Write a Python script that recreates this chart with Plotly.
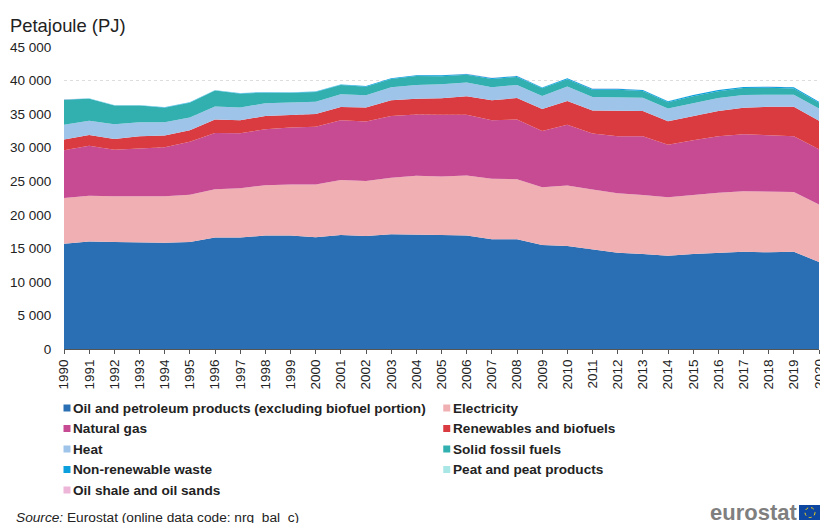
import plotly.graph_objects as go

years = list(range(1990, 2021))
names = ["Oil and petroleum products (excluding biofuel portion)", "Electricity", "Natural gas",
         "Renewables and biofuels", "Heat", "Solid fossil fuels", "Non-renewable waste",
         "Peat and peat products", "Oil shale and oil sands"]
colors = ["#2A6EB4", "#F0AFB2", "#C64B93", "#D93B41", "#9FC4EA", "#32B0B0", "#0B9FDD", "#A9E6E6", "#EDB5D8"]

oil = [15700,16000,15950,15900,15850,15950,16600,16600,16900,16900,16650,17000,16850,17100,17100,17000,16900,16350,16350,15500,15350,14850,14350,14150,13900,14150,14350,14500,14400,14500,12950]
electricity = [6800,6850,6800,6850,6900,7050,7200,7350,7500,7600,7850,8200,8200,8400,8700,8700,8950,9000,8950,8600,9000,8900,8850,8800,8700,8800,8950,9000,9000,8900,8600]
gas = [7100,7450,6950,7150,7300,7900,8400,8200,8350,8500,8600,8900,8850,9200,9150,9200,9050,8750,8900,8400,9050,8350,8500,8750,7850,8150,8400,8500,8500,8300,8200]
renewables = [1600,1600,1600,1800,1750,1700,2000,1950,1950,1800,1900,1950,2100,2350,2350,2450,2750,2950,3200,3250,3550,3450,3750,3750,3500,3650,3750,3950,4200,4400,4250]
heat = [2200,2100,2200,2100,2000,1900,1950,1900,1900,1900,1850,1900,1800,1950,2050,2100,2050,1950,1950,1950,2150,2000,2000,2000,1900,1850,1950,1900,1800,1800,1850]
solid = [3725,3275,2770,2470,2160,2210,2350,2050,1590,1440,1435,1385,1285,1225,1315,1205,1155,1245,1195,1150,1090,1090,1180,980,930,1080,1025,1025,1025,925,835]
waste = [40,40,50,50,60,60,70,70,80,80,90,90,90,100,110,120,120,130,130,130,140,140,150,150,150,150,160,160,160,160,150]
peat = [30,30,25,25,25,25,25,25,25,25,20,20,20,20,20,20,20,20,20,15,15,15,15,15,15,15,10,10,10,10,10]
shale = [5,5,5,5,5,5,5,5,5,5,5,5,5,5,5,5,5,5,5,5,5,5,5,5,5,5,5,5,5,5,5]
series = [oil, electricity, gas, renewables, heat, solid, waste, peat, shale]
y_ticks = [0, 5000, 10000, 15000, 20000, 25000, 30000, 35000, 40000, 45000]
y_tick_labels = ["0", "5 000", "10 000", "15 000", "20 000", "25 000", "30 000", "35 000", "40 000", "45 000"]

W, H = 820, 523
L, R, T, B = 63.5, 819, 47, 349
FONT = "Liberation Sans, Arial, sans-serif"
TXT = "#222222"
fig = go.Figure()
for n, c, v in zip(names, colors, series):
    fig.add_trace(go.Scatter(x=years, y=v, name=n, mode="lines", stackgroup="one",
                             line=dict(width=0, color=c), fillcolor=c, showlegend=False))

def px(x): return (x - L) / (R - L)
def py(y): return (B - y) / (B - T)

shapes, ann = [], []
ann.append(dict(text="Petajoule (PJ)", x=px(7), y=py(25), xref="paper", yref="paper", xanchor="left", yanchor="middle",
                showarrow=False, font=dict(size=18.4, color=TXT, family=FONT)))
cols = [63, 443]
rows = [408, 428.5, 449, 469.5, 490]
for i, (n, c) in enumerate(zip(names, colors)):
    col = 1 if (i % 2 and i < 8) else 0
    row = i // 2
    x0 = cols[col]; yc = rows[row]
    shapes.append(dict(type="rect", xref="paper", yref="paper", x0=px(x0), x1=px(x0 + 7),
                       y0=py(yc + 3.5), y1=py(yc - 3.5), fillcolor=c, line=dict(width=0)))
    ann.append(dict(text="<b>%s</b>" % n, x=px(x0 + 8), y=py(yc), xref="paper", yref="paper", xanchor="left", yanchor="middle",
                    showarrow=False, font=dict(size=13.6, color=TXT, family=FONT)))
ann.append(dict(text="<i>Source:</i> Eurostat (online data code: nrg_bal_c)", x=px(13), y=py(517), xref="paper", yref="paper",
                xanchor="left", yanchor="middle", showarrow=False, font=dict(size=13.7, color=TXT, family=FONT)))
ann.append(dict(text="<b>eurostat</b>", x=px(798.5), y=py(512.5), xref="paper", yref="paper", xanchor="right", yanchor="middle",
                showarrow=False, font=dict(size=22, color="#7F7F7F", family=FONT)))
ann.append(dict(text=str(years[-1]), x=years[-1], y=py(357), xref="x", yref="paper", xanchor="center", yanchor="top",
                textangle=-90, showarrow=False, font=dict(size=13.5, color=TXT, family=FONT)))
shapes.append(dict(type="rect", xref="paper", yref="paper", x0=px(799), x1=px(820), y0=py(520), y1=py(505),
                   fillcolor="#0E47A1", line=dict(width=0)))
shapes.append(dict(type="circle", xref="paper", yref="paper", x0=px(805), x1=px(815), y0=py(517.5), y1=py(507.5),
                   fillcolor="rgba(0,0,0,0)", line=dict(width=1, color="#F2D21B", dash="dot")))

fig.update_layout(width=W, height=H, margin=dict(l=L, r=W - R, t=T, b=H - B), autosize=False,
                  paper_bgcolor="white", plot_bgcolor="white", shapes=shapes, annotations=ann,
                  font=dict(family=FONT, size=13.5, color=TXT), showlegend=False)
fig.update_xaxes(range=[1990, 2020], tickmode="array", tickvals=years, ticktext=[str(y) for y in years],
                 tickangle=-90, ticks="outside", ticklen=4, tickcolor="#555555", showgrid=False,
                 showline=True, linecolor="#555555", linewidth=1)
fig.update_yaxes(range=[0, 45000], tickmode="array", tickvals=y_ticks, ticktext=y_tick_labels, ticks="outside",
                 ticklen=9, tickcolor="rgba(0,0,0,0)",
                 showgrid=True, gridcolor="#DDDDDD", griddash="dot", gridwidth=1, zeroline=False)
fig.write_html("out.html", config={"displayModeBar": False}, post_script="document.body.style.margin='0';")
